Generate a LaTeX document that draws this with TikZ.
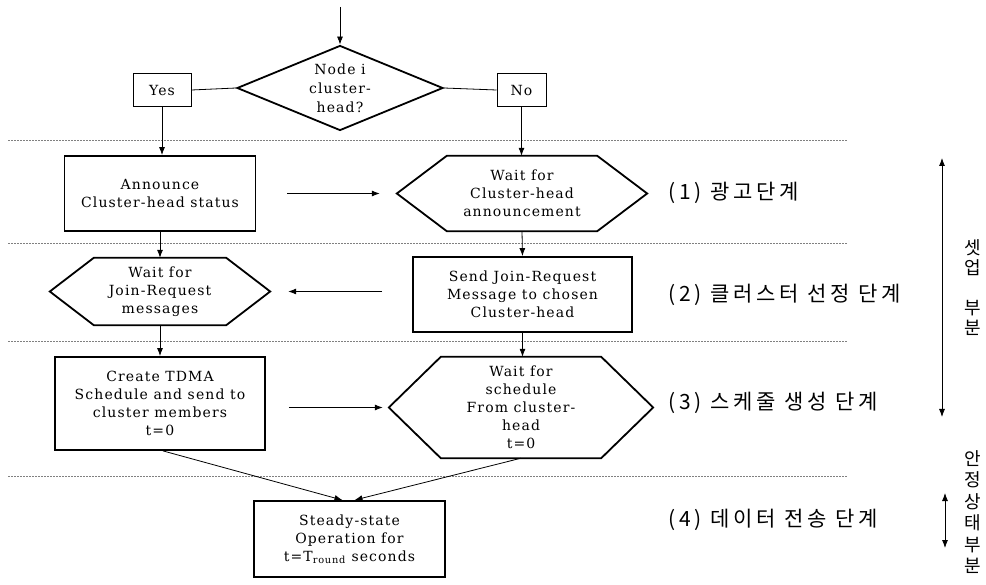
\documentclass[tikz,border=0pt]{standalone}
\usepackage{fontspec}
\setmainfont{DejaVu Serif}[LetterSpace=8]
\newfontfamily\kor{Noto Sans CJK KR}[LetterSpace=18]
\usetikzlibrary{positioning,shapes.geometric,arrows.meta}

\tikzset{
  box/.style={draw, line width=1.8pt, align=center, inner sep=2pt, font=\fontsize{14}{18}\selectfont},
  hexa/.style={align=center, inner sep=0pt, font=\fontsize{14}{18}\selectfont},
  flow/.style={-{Latex[length=8pt,width=6pt]}, line width=.8pt},
  twoway/.style={{Latex[length=8pt,width=6pt]}-{Latex[length=8pt,width=6pt]}, line width=.8pt},
  phase/.style={draw=gray, dash pattern=on 2pt off 1pt, line width=.8pt},
  tag/.style={anchor=west, inner sep=0pt, font=\kor\fontsize{21}{24}\selectfont},
  vlabel/.style={align=center, inner sep=0pt}
}
% hexagon outline round a borderless node: name, indent
\newcommand{\hexframe}[2]{\draw[line width=1.8pt] (#1.west) -- ([xshift=#2]#1.north west) -- ([xshift=-#2]#1.north east) -- (#1.east) -- ([xshift=-#2]#1.south east) -- ([xshift=#2]#1.south west) -- cycle;}

\begin{document}
\begin{tikzpicture}[x = 1pt, y = -1pt]
    \path[fill = white, use as bounding box] (0,0) rectangle (986,585);
    \foreach \y in {140,243,341,476}
        \draw[phase] (8,\y) -- (847,\y);

    \coordinate (start) at (340,7);
    \node[diamond, draw, line width = 1.8pt, aspect = 2.42, minimum width = 206pt, minimum height = 85pt, inner sep = 0pt, align = center, font = \fontsize{14}{19}\selectfont] (chk) at (340,88) {Node i\\cluster-\\head?};
    \node[box, line width = 1pt, minimum width = 58pt, minimum height = 33pt] (yes) at (162,90) {Yes};
    \node[box, line width = 1pt, minimum width = 49pt, minimum height = 33pt] (no) at (521.5,90) {No};

    \node[box, minimum width = 191pt, minimum height = 75pt] (announce) at (160,193.5) {Announce\\Cluster-head status};
    \node[hexa, minimum width = 250pt, minimum height = 75pt] (waitch) at (522,193.5) {Wait for\\Cluster-head\\announcement};
    \node[hexa, minimum width = 220pt, minimum height = 67pt] (waitjr) at (160,291.5) {Wait for\\Join-Request\\messages};
    \node[box, minimum width = 219pt, minimum height = 75pt] (joinreq) at (522.5,294.5) {Send Join-Request\\Message to chosen\\Cluster-head};
    \node[box, minimum width = 210pt, minimum height = 93pt] (tdma) at (160,403.5) {Create TDMA\\Schedule and send to\\cluster members\\t=0};
    \node[hexa, minimum width = 264pt, minimum height = 101pt] (waitsch) at (521,407.5) {Wait for\\schedule\\From cluster-\\head\\t=0};
    \node[box, minimum width = 191pt, minimum height = 76pt] (steady) at (349.5,539) {Steady-state\\Operation for\\t=T\textsubscript{round} seconds};
    \hexframe{waitch}{50pt}
    \hexframe{waitjr}{44pt}
    \hexframe{waitsch}{52pt}

    \draw[flow] (start) -- (chk.north);
    \draw[line width = .8pt] (yes.east) -- (chk.west);
    \draw[line width = .8pt] (chk.east) -- (no.west);
    \draw[flow] (yes.south) -- (yes.south |- announce.north);
    \draw[flow] (no.south) -- (no.south |- waitch.north);
    \draw[flow, shorten <= 31pt, shorten >= 17pt] (announce.east) -- (waitch.west);
    \draw[flow] (announce.south) -- (waitjr.north);
    \draw[flow] (waitch.south) -- (joinreq.north);
    \draw[flow, shorten <= 30pt, shorten >= 18pt] (waitjr.east -| joinreq.west) -- (waitjr.east);
    \draw[flow] (waitjr.south) -- (tdma.north);
    \draw[flow] (joinreq.south) -- (joinreq.south |- waitsch.north);
    \draw[flow, shorten <= 23pt, shorten >= 6pt] (waitsch.west -| tdma.east) -- (waitsch.west);
    \draw[flow] ([xshift = 3pt]tdma.south) -- ([xshift = -7pt]steady.north);
    \draw[flow] (waitsch.south) -- ([xshift = 5pt]steady.north);

    \node[tag] (ph1) at (668,193) {(1) 광고단계};
    \node[tag] (ph2) at (668,295) {(2) 클러스터 선정 단계};
    \node[tag] (ph3) at (668,403) {(3) 스케줄 생성 단계};
    \node[tag] (ph4) at (668,520) {(4) 데이터 전송 단계};

    \coordinate (setupT) at (942,158);
    \coordinate (setupB) at (942,417);
    \draw[twoway] (setupT) -- (setupB);
    \node[vlabel, font = \kor\fontsize{18}{20}\selectfont] (setup) at (973,288) {셋\\업\\[20pt]부\\분};
    \coordinate (steadyT) at (945,493);
    \coordinate (steadyB) at (945,548);
    \draw[twoway] (steadyT) -- (steadyB);
    \node[vlabel, font = \kor\fontsize{18}{21.5}\selectfont] (stable) at (973,512) {안\\정\\상\\태\\부\\분};
\end{tikzpicture}
\end{document}
